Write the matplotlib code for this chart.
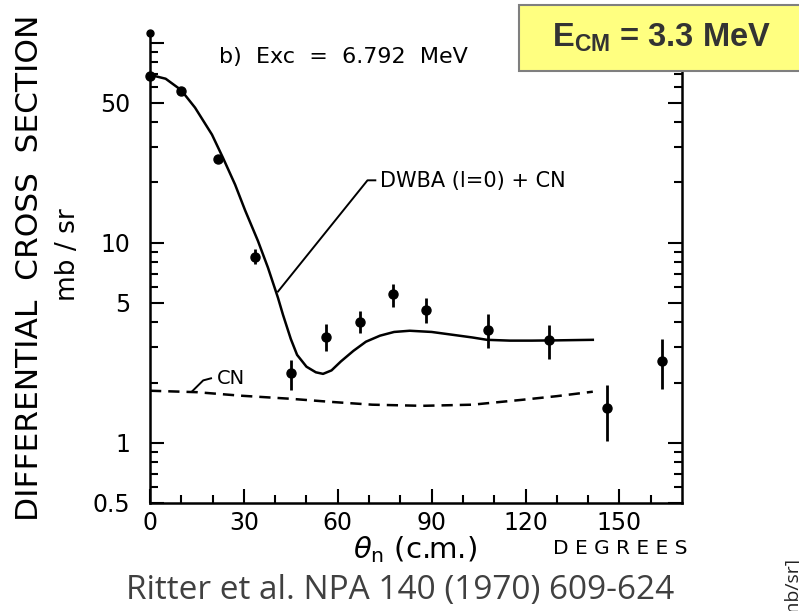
import numpy as np
import matplotlib.pyplot as plt
from matplotlib.patches import Rectangle

plt.rcParams['mathtext.fontset'] = 'custom'
plt.rcParams['mathtext.rm'] = 'Liberation Sans:bold'
plt.rcParams['mathtext.bf'] = 'Liberation Sans:bold'
plt.rcParams['mathtext.it'] = 'DejaVu Sans:italic'

# measured points, theta_n (c.m.) in degrees and cross section in mb/sr
angle = [0, 9.9, 21.7, 33.5, 45, 56.2, 67, 77.6, 88.2, 108, 127.5, 146, 163.6]
xsec = [68.4, 57.5, 26.3, 8.5, 2.24, 3.39, 4.03, 5.56, 4.62, 3.67, 3.27, 1.50, 2.57]
err_lo = [68.4, 57.5, 26.3, 7.8, 1.84, 2.88, 3.55, 4.78, 3.98, 2.98, 2.63, 1.02, 1.86]
err_hi = [68.4, 57.5, 26.3, 9.3, 2.60, 3.93, 4.57, 6.25, 5.30, 4.40, 3.90, 1.95, 3.30]

# DWBA (l=0) + CN curve
dwba_angle = [0, 5, 9.9, 14.4, 19.8, 23.3, 27.2, 30.4, 34.5, 37.7, 40.9, 42.5,
              45, 47, 50, 53, 55.3, 58, 61, 65, 69, 73.5, 78, 83, 90, 97, 103,
              107.7, 115, 122, 130, 141.5]
dwba_xsec = [69, 66, 58, 47.3, 34.7, 26.6, 19.5, 14.5, 10.2, 7.5, 5.3, 4.36,
             3.3, 2.75, 2.4, 2.25, 2.21, 2.3, 2.55, 2.88, 3.2, 3.43, 3.58, 3.63,
             3.58, 3.46, 3.36, 3.27, 3.24, 3.24, 3.25, 3.27]

# compound nucleus (CN) curve
cn_angle = [0, 15, 28.8, 44.7, 58, 71, 87, 103, 119, 130, 141.5]
cn_xsec = [1.82, 1.79, 1.72, 1.66, 1.60, 1.55, 1.53, 1.55, 1.64, 1.71, 1.80]

W, H = 799, 611
fig = plt.figure(figsize=(W / 100, H / 100), dpi=100)
ax = fig.add_axes([150 / W, 108 / H, 532 / W, 471 / H])

ax.plot(dwba_angle, dwba_xsec, color='black', lw=1.8)
ax.plot(cn_angle, cn_xsec, color='black', lw=1.8, dashes=(4.5, 2.8))

yerr = [np.array(xsec) - np.array(err_lo), np.array(err_hi) - np.array(xsec)]
ax.errorbar(angle, xsec, yerr=yerr, fmt='o', color='black', ms=6.5,
            elinewidth=2, capsize=0, clip_on=False, zorder=3)
# off-scale point at 0 degrees
ax.plot([0], [112], 'o', color='black', ms=5, clip_on=False)

ax.set_yscale('log')
ax.set_xlim(0, 170)
ax.set_ylim(0.5, 113)

ax.set_xticks([0, 30, 60, 90, 120, 150])
ax.set_xticklabels(['0', '30', '60', '90', '120', '150'])
ax.set_xticks([10, 20, 40, 50, 70, 80, 100, 110, 130, 140, 160], minor=True)

ax.set_yticks([0.5, 1, 5, 10, 50, 100])
ax.set_yticklabels(['0.5', '1', '5', '10', '50', ''])
minor_y = [0.6, 0.7, 0.8, 0.9, 2, 3, 4, 6, 7, 8, 9, 20, 30, 40, 60, 70, 80, 90]
ax.set_yticks(minor_y, minor=True)
ax.yaxis.set_minor_formatter(plt.NullFormatter())

ax.tick_params(which='both', direction='in', width=1.5, left=True, right=True,
               bottom=True, top=False, labelsize=17, colors='black')
ax.tick_params(which='major', length=10)
ax.tick_params(which='minor', length=6)
ax.tick_params(axis='y', pad=14)
ax.tick_params(axis='x', pad=6)

ax.spines['top'].set_visible(False)
for s in ['left', 'right', 'bottom']:
    ax.spines[s].set_linewidth(1.8)

ax.text(0.13, 0.947, 'b)  Exc  =  6.792  MeV', transform=ax.transAxes,
        fontsize=16, ha='left', va='center')

# label for the full curve with leader line
ax.plot([40.9, 69.5, 72], [5.7, 20.5, 20.5], color='black', lw=1.4)
ax.text(73.5, 20.3, 'DWBA (l=0) + CN', fontsize=15, va='center')

# label for the CN curve
ax.plot([13.5, 17, 19.5], [1.81, 2.05, 2.1], color='black', lw=1.4)
ax.text(21.5, 2.1, 'CN', fontsize=14, va='center')

# axis titles
fig.text(30 / W, 1 - 268 / H, 'DIFFERENTIAL  CROSS  SECTION', rotation=90,
         fontsize=22.5, ha='center', va='center')
fig.text(68 / W, 1 - 255 / H, 'mb / sr', rotation=90, fontsize=19,
         ha='center', va='center')
fig.text(415 / W, 1 - 550 / H, r'$\theta_\mathregular{n}$ (c.m.)', fontsize=21,
         ha='center', va='center')
fig.text(620 / W, 1 - 548 / H, 'D E G R E E S', fontsize=14.5,
         ha='center', va='center')

# energy box
fig.patches.append(Rectangle((519 / W, 1 - 71 / H), 290 / W, 66 / H,
                             transform=fig.transFigure, facecolor='#ffff80',
                             edgecolor='#7f7f7f', lw=1.5, zorder=5))
fig.text(662 / W, 1 - 38 / H, r'E$_{\mathbf{CM}}$ = 3.3 MeV', fontsize=23.5,
         fontweight='bold', family='Liberation Sans', color='#333333',
         ha='center', va='center', zorder=6)

fig.text(400 / W, 1 - 590 / H, 'Ritter et al. NPA 140 (1970) 609-624',
         fontsize=24, family='Open Sans', color='#404040',
         ha='center', va='center')

fig.text(792 / W, 1 - 557 / H, '[mb/sr]', rotation=90, fontsize=14,
         family='Open Sans', color='#222222', ha='center', va='top')

fig.savefig('out.png', dpi=100)
